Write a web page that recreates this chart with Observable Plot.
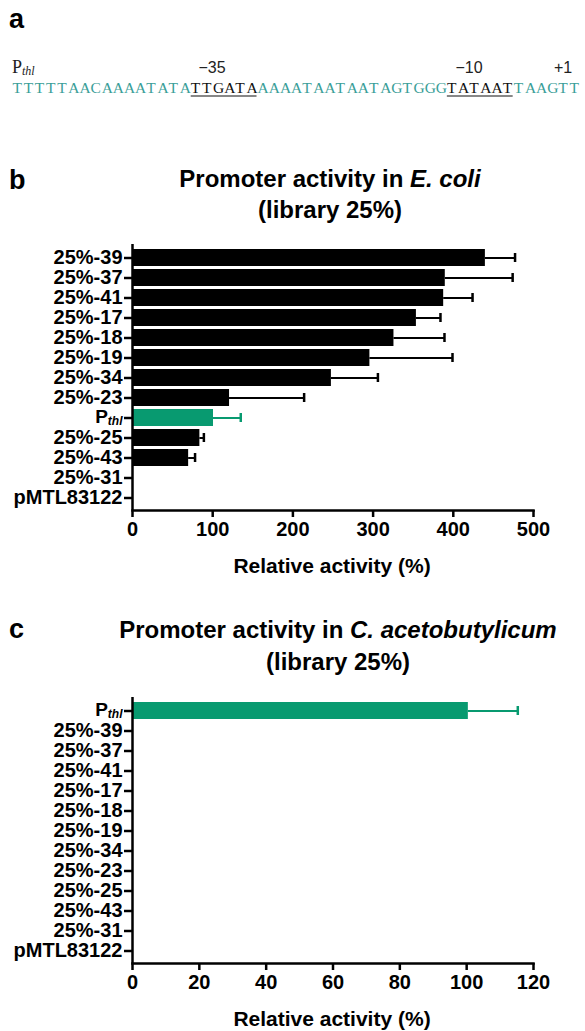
<!DOCTYPE html>
<html><head><meta charset="utf-8">
<script src="https://cdn.jsdelivr.net/npm/d3@7"></script>
<script src="https://cdn.jsdelivr.net/npm/@observablehq/plot@0.6"></script>
<style>
body{margin:0;background:#fff;}
#root{position:relative;width:585px;height:1031px;overflow:hidden;}
#root > *{position:absolute;}
</style></head><body><div id="root"></div>
<script>
// ---------- data ----------
const sequence = "TTTTTAACAAAATATATTGATAAAAATAATAATAGTGGGTATAATTAAGTT";
const boxStarts = [16, 39];          // -35 and -10 boxes (character index)
const boxLength = 6;
const seqMarks = ["−35", "−10", "+1"];

const ecoliNames  = ["25%-39","25%-37","25%-41","25%-17","25%-18","25%-19","25%-34","25%-23","Pthl","25%-25","25%-43","25%-31","pMTL83122"];
const ecoliValues = [440, 390, 388, 354, 326, 296, 248, 121, 101, 84, 70, 0, 0];
const ecoliErrors = [37, 84, 36, 30, 63, 103, 58, 93, 34, 5, 8, 0, 0];
const ecoliTicks  = [0, 100, 200, 300, 400, 500];

const cacNames  = ["Pthl","25%-39","25%-37","25%-41","25%-17","25%-18","25%-19","25%-34","25%-23","25%-25","25%-43","25%-31","pMTL83122"];
const cacValues = [100.5, 0, 0, 0, 0, 0, 0, 0, 0, 0, 0, 0, 0];
const cacErrors = [14.8, 0, 0, 0, 0, 0, 0, 0, 0, 0, 0, 0, 0];
const cacTicks  = [0, 20, 40, 60, 80, 100, 120];

const GREEN = "#089a70";
const TEAL = "#3a9e98";
const SANS = "'Liberation Sans', Arial, Helvetica, sans-serif";

const root = document.getElementById("root");

// ---------- bar panels ----------
function panel(names, values, errors, ticks, top) {
  const data = names.map((n, i) => ({name: n, value: values[i], err: errors[i], color: n === "Pthl" ? GREEN : "black"}));
  const withErr = data.filter(d => d.err > 0);
  const chart = Plot.plot({
    width: 585, height: 340,
    marginLeft: 132, marginRight: 52, marginTop: 8, marginBottom: 66,
    style: {fontFamily: SANS, fontSize: "20px", fontWeight: "bold", color: "black", background: "transparent", overflow: "visible"},
    x: {domain: [ticks[0], ticks[ticks.length - 1]]},
    y: {domain: names, padding: 0.15},
    color: {type: "identity"},
    marks: [
      Plot.barX(data, {y: "name", x: "value", fill: "color"}),
      Plot.ruleY(withErr, {y: "name", x1: "value", x2: d => d.value + d.err, stroke: "color", strokeWidth: 2}),
      Plot.tickX(withErr, {y: "name", x: d => d.value + d.err, stroke: "color", strokeWidth: 2.5, insetTop: 4, insetBottom: 4}),
      Plot.ruleX([ticks[0]], {strokeWidth: 2.5}),
      Plot.frame({anchor: "bottom", strokeWidth: 2.5}),
      Plot.axisX({ticks, tickSize: 7, tickPadding: 4, strokeWidth: 2.5, label: null, tickFormat: d => String(d)}),
      Plot.axisY({tickSize: 8, tickPadding: 2, strokeWidth: 2.5, label: null})
    ]
  });
  chart.style.top = top + "px";
  chart.style.left = "0px";
  // subscript for P_thl
  chart.querySelectorAll("text").forEach(t => {
    if (t.textContent === "Pthl") {
      t.textContent = "";
      const p = document.createElementNS("http://www.w3.org/2000/svg", "tspan");
      p.textContent = "P";
      p.setAttribute("font-size", "19px");
      p.setAttribute("dy", "-1");
      const s = document.createElementNS("http://www.w3.org/2000/svg", "tspan");
      s.textContent = "thl";
      s.setAttribute("font-style", "italic");
      s.setAttribute("font-size", "12px");
      s.setAttribute("dy", "1.5");
      t.appendChild(p); t.appendChild(s);
    }
  });
  root.appendChild(chart);
}

panel(ecoliNames, ecoliValues, ecoliErrors, ecoliTicks, 236);
panel(cacNames, cacValues, cacErrors, cacTicks, 689);

// ---------- overlay text (panel a, titles, labels) ----------
const svg = d3.select(root).append("svg")
  .attr("width", 585).attr("height", 1031)
  .style("left", "0px").style("top", "0px").style("pointer-events", "none");

function letter(t, x, y) {
  svg.append("text").attr("x", x).attr("y", y).text(t)
    .attr("font-family", SANS).attr("font-weight", "bold").attr("font-size", 27);
}
letter("a", 9, 28);
letter("b", 9, 189);
letter("c", 9, 638);

// panel a
const x0 = 12, seqW = 568, cw = seqW / sequence.length;
const pl = svg.append("text").attr("x", 12).attr("y", 73)
  .attr("font-family", "'Liberation Serif', serif").attr("font-size", 18).attr("fill", "#222");
pl.append("tspan").text("P");
pl.append("tspan").text("thl").attr("font-size", 12).attr("font-style", "italic").attr("dy", 2);

const markX = [212, 469, 563];
seqMarks.forEach((m, i) => {
  svg.append("text").attr("x", markX[i]).attr("y", 73).attr("text-anchor", "middle")
    .attr("font-family", SANS).attr("font-size", 16).attr("fill", "#222").text(m);
});

const seqText = svg.append("text").attr("y", 93)
  .attr("font-family", "'Liberation Serif', serif").attr("font-size", 15.5);
const inBox = i => boxStarts.some(s => i >= s && i < s + boxLength);
let segStart = 0;
for (let i = 1; i <= sequence.length; i++) {
  if (i === sequence.length || inBox(i) !== inBox(segStart)) {
    const xs = d3.range(segStart, i).map(k => (x0 + k * cw + 0.6).toFixed(2)).join(" ");
    seqText.append("tspan").attr("x", xs).attr("fill", inBox(segStart) ? "#111" : TEAL)
      .text(sequence.slice(segStart, i));
    segStart = i;
  }
}
boxStarts.forEach(s => {
  svg.append("line").attr("x1", x0 + s * cw + 0.5).attr("x2", x0 + (s + boxLength) * cw - 0.5)
    .attr("y1", 96).attr("y2", 96).attr("stroke", "#111").attr("stroke-width", 1.2);
});

// titles
function title(y1, y2, cx, plain, italic) {
  const t = svg.append("text").attr("x", cx).attr("y", y1).attr("text-anchor", "middle")
    .attr("font-family", SANS).attr("font-weight", "bold").attr("font-size", 24);
  t.append("tspan").text(plain);
  t.append("tspan").attr("font-style", "italic").text(italic);
  svg.append("text").attr("x", cx).attr("y", y2).attr("text-anchor", "middle")
    .attr("font-family", SANS).attr("font-weight", "bold").attr("font-size", 24).text("(library 25%)");
}
title(187, 218, 330, "Promoter activity in ", "E. coli");
title(638, 670, 338, "Promoter activity in ", "C. acetobutylicum");

function axisTitle(y) {
  svg.append("text").attr("x", 332).attr("y", y).attr("text-anchor", "middle")
    .attr("font-family", SANS).attr("font-weight", "bold").attr("font-size", 21).text("Relative activity (%)");
}
axisTitle(573);
axisTitle(1026);
</script></body></html>
